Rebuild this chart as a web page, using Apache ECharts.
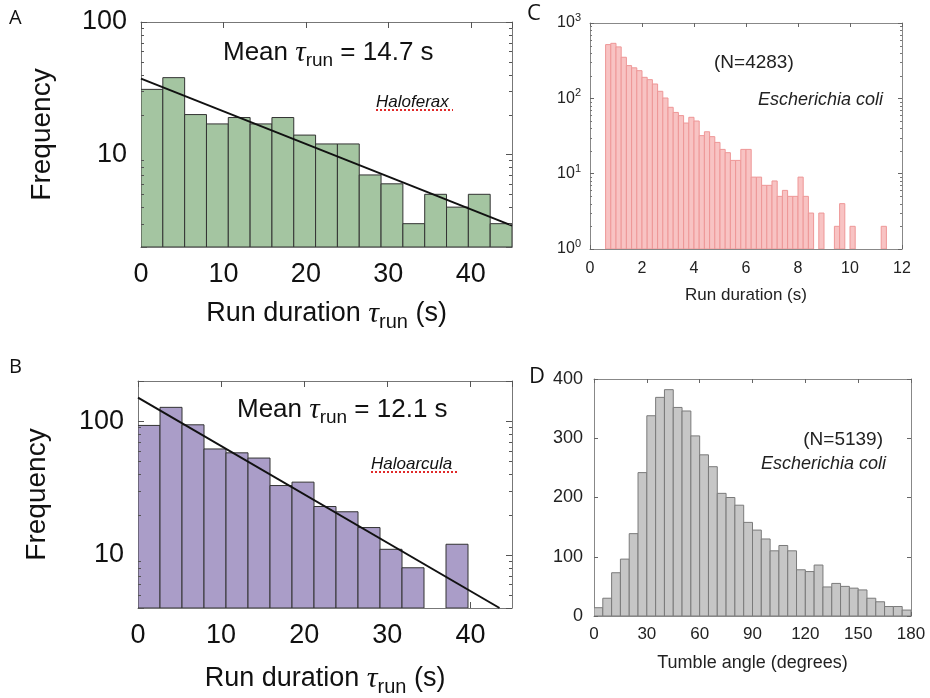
<!DOCTYPE html>
<html>
<head>
<meta charset="utf-8">
<script src="https://cdn.jsdelivr.net/npm/echarts@6/dist/echarts.min.js"></script>
<style>html,body{margin:0;padding:0;background:#fff}#c{width:930px;height:698px}</style>
</head>
<body>
<div id="c"></div>
<script>
// ---- Data ----
// Panel A: Haloferax, 17 bins spanning 0-45 s
const aRange = [0, 45];
const aCounts = [31, 38, 20, 17, 19, 17, 19, 14, 12, 12, 7, 6, 3, 5, 4, 5, 3];
const aFit = [[0, 37.4], [45, 2.9]];
// Panel B: Haloarcula, 17 bins spanning 0-45 s
const bRange = [0, 45];
const bCounts = [93, 127, 94, 62, 58, 53, 33, 35, 23, 21, 16, 11, 8, null, 12, null, null];
const bFit = [[0, 150], [43.5, 4]];
// Panel C: E. coli run durations, 0.2 s bins starting at 0.6 s
const cStart = 0.6, cWidth = 0.2;
const cCounts = [517,537,482,351,272,254,233,190,177,155,124,101,76,65,59,47,56,50,32,36,
  31,26,21,19,15,15,21,21,9,9,7,7,8,5,6,5,5,9,5,3,
  null,3,null,null,2,4,null,2,null,null,null,null,null,2];
// Panel D: E. coli tumble angles, 5 degree bins from 0
const dStart = 0, dWidth = 5;
const dCounts = [14,30,73,96,139,242,338,369,382,352,346,304,272,252,207,200,187,158,145,130,
  110,119,110,78,75,86,49,55,50,47,44,30,24,16,16,10];

// Tick settings
const xTicksA = 10, xTicksC = 2, xTicksD = 30, yTicksD = 100;
// Minor log-tick positions of the log axes
const minorA = [3, 4, 5, 6, 7, 8, 9, 20, 30, 40, 50, 60, 70, 80, 90];
const minorB = [5, 6, 7, 8, 9, 20, 30, 40, 50, 60, 70, 80, 90];
const minorC = [2, 3, 4, 5, 6, 7, 8, 9, 20, 30, 40, 50, 60, 70, 80, 90, 200, 300, 400, 500, 600, 700, 800, 900];

function binsFromRange(range, counts) {
  const w = (range[1] - range[0]) / counts.length;
  const out = [];
  counts.forEach((c, i) => { if (c != null) out.push([range[0] + i * w, range[0] + (i + 1) * w, c]); });
  return out;
}
function binsFromStart(start, width, counts) {
  const out = [];
  counts.forEach((c, i) => { if (c != null) out.push([start + i * width, start + (i + 1) * width, c]); });
  return out;
}
function histRender(base, fill, stroke, lw) {
  return function (params, api) {
    const p0 = api.coord([api.value(0), api.value(2)]);
    const p1 = api.coord([api.value(1), base]);
    return { type: 'rect', shape: { x: p0[0], y: p0[1], width: p1[0] - p0[0], height: p1[1] - p0[1] },
      style: { fill: fill, stroke: stroke, lineWidth: lw } };
  };
}
function minorTickRender(xmin, xmax, len, color) {
  return function (params, api) {
    const v = api.value(1);
    const pl = api.coord([xmin, v]);
    const pr = api.coord([xmax, v]);
    const y = Math.round(pl[1]) + 0.5;
    return { type: 'group', children: [
      { type: 'line', shape: { x1: pl[0], y1: y, x2: pl[0] + len, y2: y }, style: { stroke: color, lineWidth: 1 } },
      { type: 'line', shape: { x1: pr[0] - len, y1: y, x2: pr[0], y2: y }, style: { stroke: color, lineWidth: 1 } }
    ] };
  };
}

const SANS = 'Liberation Sans';
const bigRich = {
  a: { fontSize: 27, fontFamily: SANS, color: '#111' },
  t: { fontSize: 30, fontFamily: 'Liberation Serif', fontStyle: 'italic', color: '#111' },
  s: { fontSize: 20, fontFamily: SANS, color: '#111', padding: [16, 0, 0, 0] }
};
const supRich = {
  b: { fontSize: 16, fontFamily: SANS, color: '#222' },
  e: { fontSize: 11, fontFamily: SANS, color: '#222', padding: [0, 0, 10, 0] }
};

function isPow10(v) { const l = Math.log10(v); return Math.abs(l - Math.round(l)) < 1e-6; }

const frame = (c) => ({ show: true, onZero: false, lineStyle: { color: c, width: 1 } });
const tickIn = (c, len) => ({ show: true, inside: true, length: len, lineStyle: { color: c } });

const grids = [
  { left: 141, top: 22, width: 371, height: 225 },
  { left: 138, top: 381, width: 374, height: 228 },
  { left: 590, top: 23, width: 312, height: 226 },
  { left: 594, top: 379, width: 317, height: 237 }
];

const xAxes = [
  // A
  { gridIndex: 0, type: 'value', min: aRange[0], max: aRange[1], interval: xTicksA, axisLine: frame('#777'), axisTick: tickIn('#555', 6),
    splitLine: { show: false }, axisLabel: { fontSize: 27, fontFamily: SANS, color: '#111', margin: 14, showMaxLabel: false },
    name: '{a|Run duration }{t|τ}{s|run}{a| (s)}', nameLocation: 'middle', nameGap: 49, nameTextStyle: { rich: bigRich } },
  { gridIndex: 0, type: 'value', position: 'top', min: aRange[0], max: aRange[1], interval: xTicksA, axisLine: frame('#777'), axisTick: tickIn('#555', 6),
    splitLine: { show: false }, axisLabel: { show: false } },
  // B
  { gridIndex: 1, type: 'value', min: bRange[0], max: bRange[1], interval: xTicksA, axisLine: frame('#777'), axisTick: tickIn('#555', 6),
    splitLine: { show: false }, axisLabel: { fontSize: 27, fontFamily: SANS, color: '#111', margin: 14, showMaxLabel: false },
    name: '{a|Run duration }{t|τ}{s|run}{a| (s)}', nameLocation: 'middle', nameGap: 53, nameTextStyle: { rich: bigRich } },
  { gridIndex: 1, type: 'value', position: 'top', min: bRange[0], max: bRange[1], interval: xTicksA, axisLine: frame('#777'), axisTick: tickIn('#555', 6),
    splitLine: { show: false }, axisLabel: { show: false } },
  // C
  { gridIndex: 2, type: 'value', min: 0, max: 12, interval: xTicksC, axisLine: frame('#888'), axisTick: tickIn('#666', 4),
    splitLine: { show: false }, axisLabel: { fontSize: 16, fontFamily: SANS, color: '#222', margin: 12 },
    name: 'Run duration (s)', nameLocation: 'middle', nameGap: 38, nameTextStyle: { fontSize: 17, fontFamily: SANS, color: '#222' } },
  { gridIndex: 2, type: 'value', position: 'top', min: 0, max: 12, interval: xTicksC, axisLine: frame('#888'), axisTick: tickIn('#666', 4),
    splitLine: { show: false }, axisLabel: { show: false } },
  // D
  { gridIndex: 3, type: 'value', min: 0, max: 180, interval: xTicksD, axisLine: frame('#888'), axisTick: tickIn('#666', 4),
    splitLine: { show: false }, axisLabel: { fontSize: 17, fontFamily: SANS, color: '#222', margin: 10 },
    name: 'Tumble angle (degrees)', nameLocation: 'middle', nameGap: 38, nameTextStyle: { fontSize: 18, fontFamily: SANS, color: '#222' } },
  { gridIndex: 3, type: 'value', position: 'top', min: 0, max: 180, interval: xTicksD, axisLine: frame('#888'), axisTick: tickIn('#666', 4),
    splitLine: { show: false }, axisLabel: { show: false } }
];

const yAxes = [
  // A
  { gridIndex: 0, type: 'log', min: 2, max: 100, axisLine: frame('#777'), axisTick: tickIn('#555', 6), splitLine: { show: false },
    axisLabel: { fontSize: 27, fontFamily: SANS, color: '#111', margin: 14, formatter: v => isPow10(v) ? String(Math.round(v)) : '' },
    name: 'Frequency', nameLocation: 'middle', nameGap: 85, nameTextStyle: { fontSize: 28, fontFamily: SANS, color: '#111' } },
  { gridIndex: 0, type: 'log', position: 'right', min: 2, max: 100, axisLine: frame('#777'), axisTick: tickIn('#555', 6), splitLine: { show: false }, axisLabel: { show: false } },
  // B
  { gridIndex: 1, type: 'log', min: 4, max: 200, axisLine: frame('#777'), axisTick: tickIn('#555', 6), splitLine: { show: false },
    axisLabel: { fontSize: 27, fontFamily: SANS, color: '#111', margin: 14, formatter: v => isPow10(v) ? String(Math.round(v)) : '' },
    name: 'Frequency', nameLocation: 'middle', nameGap: 87, nameTextStyle: { fontSize: 28, fontFamily: SANS, color: '#111' } },
  { gridIndex: 1, type: 'log', position: 'right', min: 4, max: 200, axisLine: frame('#777'), axisTick: tickIn('#555', 6), splitLine: { show: false }, axisLabel: { show: false } },
  // C
  { gridIndex: 2, type: 'log', min: 1, max: 1000, axisLine: frame('#888'), axisTick: tickIn('#666', 4), splitLine: { show: false },
    axisLabel: { margin: 9, formatter: v => isPow10(v) ? '{b|10}{e|' + Math.round(Math.log10(v)) + '}' : '', rich: supRich } },
  { gridIndex: 2, type: 'log', position: 'right', min: 1, max: 1000, axisLine: frame('#888'), axisTick: tickIn('#666', 4), splitLine: { show: false }, axisLabel: { show: false } },
  // D
  { gridIndex: 3, type: 'value', min: 0, max: 400, interval: yTicksD, axisLine: frame('#888'), axisTick: tickIn('#666', 4), splitLine: { show: false },
    axisLabel: { fontSize: 18, fontFamily: SANS, color: '#222', margin: 11 } },
  { gridIndex: 3, type: 'value', position: 'right', min: 0, max: 400, interval: yTicksD, axisLine: frame('#888'), axisTick: tickIn('#666', 4), splitLine: { show: false }, axisLabel: { show: false } }
];

const series = [
  { type: 'custom', xAxisIndex: 0, yAxisIndex: 0, clip: true, encode: { x: [0, 1], y: 2 },
    data: binsFromRange(aRange, aCounts), renderItem: histRender(2, '#a4c5a1', '#333', 1) },
  { type: 'line', xAxisIndex: 0, yAxisIndex: 0, data: aFit, symbol: 'none', clip: true,
    lineStyle: { color: '#111', width: 2 }, z: 5 },
  { type: 'custom', xAxisIndex: 0, yAxisIndex: 0, encode: { x: 0, y: 1 }, z: 6, silent: true,
    data: minorA.map(v => [aRange[0], v]), renderItem: minorTickRender(aRange[0], aRange[1], 3, '#555') },
  { type: 'custom', xAxisIndex: 2, yAxisIndex: 2, clip: true, encode: { x: [0, 1], y: 2 },
    data: binsFromRange(bRange, bCounts), renderItem: histRender(4, '#aa9dc8', '#333', 1) },
  { type: 'line', xAxisIndex: 2, yAxisIndex: 2, data: bFit, symbol: 'none', clip: true,
    lineStyle: { color: '#111', width: 2 }, z: 5 },
  { type: 'custom', xAxisIndex: 2, yAxisIndex: 2, encode: { x: 0, y: 1 }, z: 6, silent: true,
    data: minorB.map(v => [bRange[0], v]), renderItem: minorTickRender(bRange[0], bRange[1], 3, '#555') },
  { type: 'custom', xAxisIndex: 4, yAxisIndex: 4, clip: true, encode: { x: [0, 1], y: 2 },
    data: binsFromStart(cStart, cWidth, cCounts), renderItem: histRender(1, '#f8c3c3', '#ee9797', 1) },
  { type: 'custom', xAxisIndex: 4, yAxisIndex: 4, encode: { x: 0, y: 1 }, z: 6, silent: true,
    data: minorC.map(v => [0, v]), renderItem: minorTickRender(0, 12, 2, '#777') },
  { type: 'custom', xAxisIndex: 6, yAxisIndex: 6, clip: true, encode: { x: [0, 1], y: 2 },
    data: binsFromStart(dStart, dWidth, dCounts), renderItem: histRender(0, '#c6c6c6', '#7a7a7a', 1) }
];

const titleRich = {
  a: { fontSize: 26, fontFamily: SANS, fill: '#111' },
  t: { fontSize: 29, fontFamily: 'Liberation Serif', fontStyle: 'italic', fill: '#111' },
  s: { fontSize: 19, fontFamily: SANS, fill: '#111', padding: [15, 0, 0, 0] }
};

const graphic = [
  { type: 'text', left: 9, top: 8, style: { text: 'A', font: '20px "Open Sans"', fill: '#111' } },
  { type: 'text', left: 9, top: 357, style: { text: 'B', font: '20px "Open Sans"', fill: '#111' } },
  { type: 'text', left: 527, top: 3, style: { text: 'C', font: '22px "Open Sans"', fill: '#111' } },
  { type: 'text', left: 529, top: 366, style: { text: 'D', font: '22px "Open Sans"', fill: '#111' } },
  { type: 'text', x: 223, y: 53, style: { text: '{a|Mean }{t|τ}{s|run}{a| = 14.7 s}', rich: titleRich, verticalAlign: 'middle' } },
  { type: 'text', x: 237, y: 410, style: { text: '{a|Mean }{t|τ}{s|run}{a| = 12.1 s}', rich: titleRich, verticalAlign: 'middle' } },
  { type: 'text', x: 376, y: 102, style: { text: 'Haloferax', font: 'italic 17px "Liberation Sans"', fill: '#111', verticalAlign: 'middle' } },
  { type: 'line', shape: { x1: 376, y1: 110, x2: 453, y2: 110 }, style: { stroke: '#e02a2a', lineWidth: 2, lineDash: [2, 2] } },
  { type: 'text', x: 371, y: 464, style: { text: 'Haloarcula', font: 'italic 17px "Liberation Sans"', fill: '#111', verticalAlign: 'middle' } },
  { type: 'line', shape: { x1: 371, y1: 472, x2: 458, y2: 472 }, style: { stroke: '#e02a2a', lineWidth: 2, lineDash: [2, 2] } },
  { type: 'text', x: 714, y: 63, style: { text: '(N=4283)', font: '19px "Liberation Sans"', fill: '#222', verticalAlign: 'middle' } },
  { type: 'text', x: 758, y: 100, style: { text: 'Escherichia coli', font: 'italic 18px "Liberation Sans"', fill: '#222', verticalAlign: 'middle' } },
  { type: 'text', x: 883, y: 440, style: { text: '(N=5139)', font: '19px "Liberation Sans"', fill: '#222', align: 'right', verticalAlign: 'middle' } },
  { type: 'text', x: 886, y: 464, style: { text: 'Escherichia coli', font: 'italic 18px "Liberation Sans"', fill: '#222', align: 'right', verticalAlign: 'middle' } }
];

const chart = echarts.init(document.getElementById('c'), null, { renderer: 'canvas' });
chart.setOption({
  animation: false,
  backgroundColor: '#fff',
  grid: grids,
  xAxis: xAxes,
  yAxis: yAxes,
  series: series,
  graphic: graphic
});
</script>
</body>
</html>
